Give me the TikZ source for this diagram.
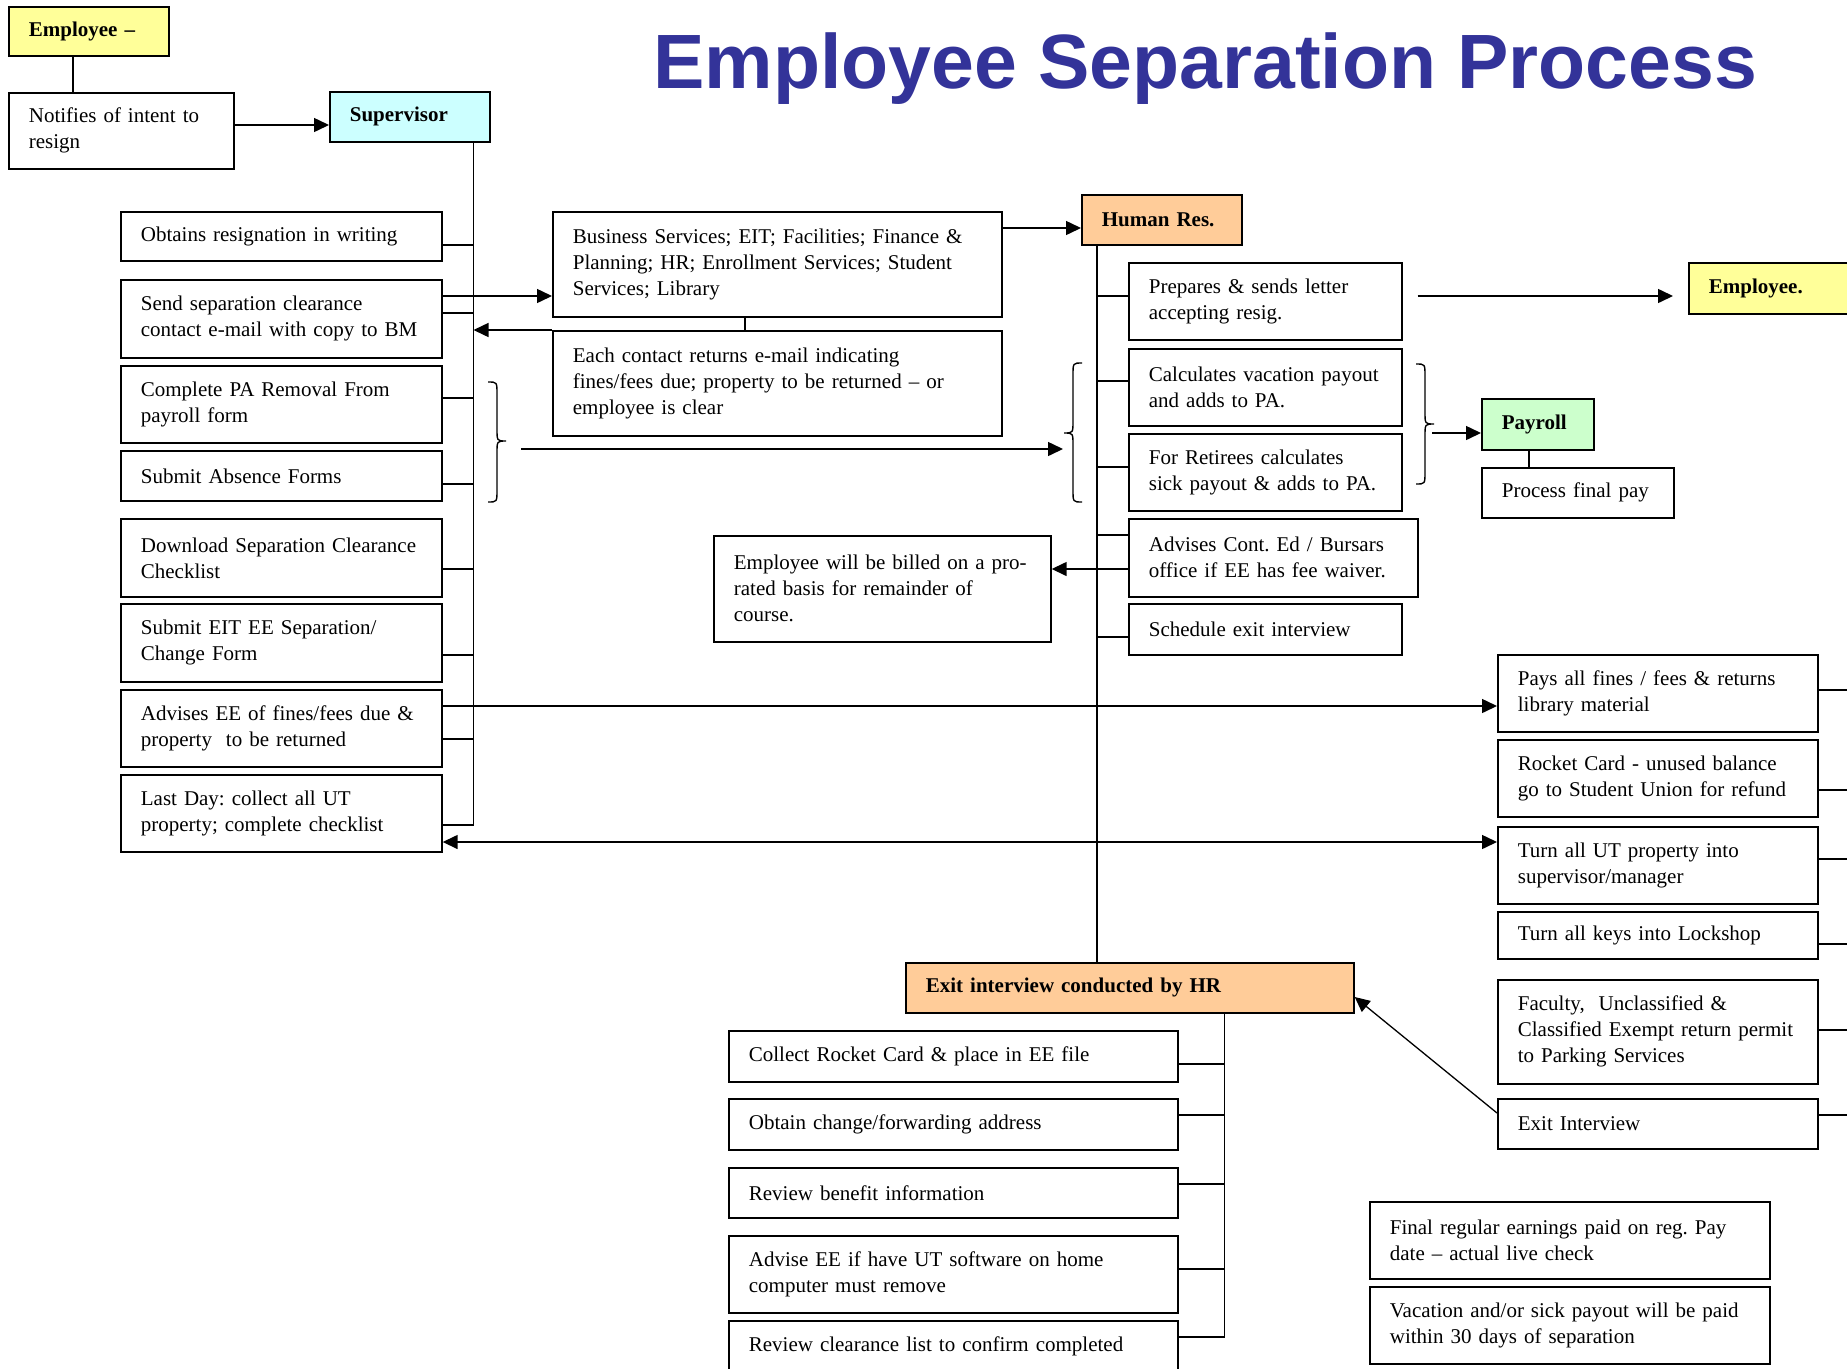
\documentclass[tikz,border=0pt]{standalone}
\usepackage{fontspec}
\setmainfont{Liberation Serif}
\newfontfamily\titlefont{Liberation Sans}
\usetikzlibrary{arrows.meta}
\definecolor{titleblue}{RGB}{51,51,153}
\definecolor{empyellow}{RGB}{255,255,153}
\definecolor{supcyan}{RGB}{204,255,255}
\definecolor{hrorange}{RGB}{255,204,153}
\definecolor{paygreen}{RGB}{204,255,204}
\newcommand\boxfont{\fontsize{21}{26}\selectfont\frenchspacing}

\tikzset{
  stepbox/.style={draw, line width=1.7pt, inner xsep=20pt, inner ysep=0pt,
    align=left, anchor=north west, font=\boxfont},
  headbox/.style={stepbox, font=\boxfont\bfseries},
  conn/.style={line width=1.5pt},
  arr/.style={conn, -{Triangle[length=15pt,width=14pt]}},
  dblarr/.style={conn, {Triangle[length=15pt,width=14pt]}-{Triangle[length=15pt,width=14pt]}},
  bracket/.style={line width=1.4pt},
}
% \placebox[style]{name}{left}{top}{width}{height}{text}
\newcommand\placebox[7][]{%
  \node[stepbox,#1,text width=\dimexpr#5pt-40pt\relax,minimum height=#6pt] (#2) at (#3,#4) {#7};}

\begin{document}
\begin{tikzpicture}[x=1pt,y=-1pt]
\useasboundingbox (0,0) rectangle (1847,1368);
\fill[white] (0,0) rectangle (1847,1368);
\clip (0,0) rectangle (1847,1368);

% title
\node[anchor=base west, inner sep=0pt, text=titleblue,
  font=\titlefont\bfseries\fontsize{77}{90}\selectfont] (title) at (653,88)
  {Employee Separation Process};

% employee and supervisor
\placebox[headbox, fill=empyellow]{empA}{8}{6}{160}{49}{Employee –}
\placebox{notify}{8}{92}{225}{76}{Notifies of intent to\\resign}
\placebox[headbox, fill=supcyan]{sup}{329}{91}{160}{50}{Supervisor}

% supervisor tasks
\placebox{obtain}{120}{211}{321}{49}{Obtains resignation in writing}
\placebox{sendsep}{120}{279}{321}{78}{Send separation clearance\\contact e-mail with copy to BM}
\placebox{complete}{120}{365}{321}{77}{Complete PA Removal From\\payroll form}
\placebox{absence}{120}{450}{321}{50}{Submit Absence Forms}
\placebox{download}{120}{518}{321}{78}{Download Separation Clearance\\Checklist}
\placebox{submiteit}{120}{603}{321}{78}{Submit EIT EE Separation/\\Change Form}
\placebox{advises}{120}{689}{321}{77}{Advises EE of fines/fees due \&\\property\ \ to be returned}
\placebox{lastday}{120}{774}{321}{77}{Last Day: collect all UT\\property; complete checklist}

% departments
\placebox{business}{552}{211}{449}{105}{Business Services; EIT; Facilities; Finance \&\\Planning; HR; Enrollment Services; Student\\Services; Library}
\placebox{each}{552}{330}{449}{105}{Each contact returns e-mail indicating\\fines/fees due; property to be returned – or\\employee is clear}

% human resources
\placebox[headbox, fill=hrorange]{hr}{1081}{194}{160}{50}{Human Res.}
\placebox{prepares}{1128}{262}{273}{77}{Prepares \& sends letter\\accepting resig.}
\placebox{calc}{1128}{348}{273}{77}{Calculates vacation payout\\and adds to PA.}
\placebox{retirees}{1128}{433}{273}{77}{For Retirees calculates\\sick payout \& adds to PA.}
\placebox{advcont}{1128}{518}{289}{78}{Advises Cont. Ed / Bursars\\office if EE has fee waiver.}
\placebox{schedule}{1128}{603}{273}{51}{Schedule exit interview}
\placebox{billed}{713}{535}{337}{106}{Employee will be billed on a pro-\\rated basis for remainder of\\course.}
\placebox[headbox, fill=empyellow]{emp2}{1688}{262}{220}{51}{Employee.}
\placebox[headbox, fill=paygreen]{payroll}{1481}{398}{112}{51}{Payroll}
\placebox{finalpay}{1481}{467}{192}{50}{Process final pay}

% employee tasks
\placebox{pays}{1497}{654}{320}{77}{Pays all fines / fees \& returns\\library material}
\placebox{rocket}{1497}{739}{320}{77}{Rocket Card - unused balance\\go to Student Union for refund}
\placebox{turnut}{1497}{826}{320}{77}{Turn all UT property into\\supervisor/manager}
\placebox{keys}{1497}{911}{320}{47}{Turn all keys into Lockshop}
\placebox{faculty}{1497}{979}{320}{104}{Faculty,\ \ Unclassified \&\\Classified Exempt return permit\\to Parking Services}
\placebox{exitint}{1497}{1098}{320}{50}{Exit Interview}

% exit interview
\placebox[headbox, fill=hrorange]{exitbox}{905}{962}{448}{50}{Exit interview conducted by HR}
\placebox{collect}{728}{1030}{449}{51}{Collect Rocket Card \& place in EE file}
\placebox{forward}{728}{1098}{449}{51}{Obtain change/forwarding address}
\placebox{benefit}{728}{1167}{449}{50}{Review benefit information}
\placebox{software}{728}{1235}{449}{77}{Advise EE if have UT software on home\\computer must remove}
\placebox{clearance}{728}{1320}{449}{51}{Review clearance list to confirm completed}
\placebox{finalearn}{1369}{1201}{400}{77}{Final regular earnings paid on reg. Pay\\date – actual live check}
\placebox{vacation}{1369}{1286}{400}{77}{Vacation and/or sick payout will be paid\\within 30 days of separation}

% bus lines
\coordinate (supbus) at (473.5,0);
\coordinate (hrbus) at (1097,0);
\coordinate (exbus) at (1224.5,0);
\coordinate (rim) at (1860,0);

\draw[conn] (empA.south -| 73,0) -- (notify.north -| 73,0);
\draw[arr] (notify.east |- 0,125) -- (sup.west |- 0,125);

% supervisor bus
\draw[conn] (supbus |- sup.south) -- (supbus |- 0,825);
\foreach \nm/\yy in {obtain/245, sendsep/313, complete/398, absence/484,
  download/569, submiteit/655, advises/739, lastday/825}
  \draw[conn] (\nm.east |- 0,\yy) -- (supbus |- 0,\yy);
\draw[arr] (sendsep.east |- 0,296) -- (business.west |- 0,296);
\draw[arr] (each.north west) -- (supbus |- each.north west);
\draw[conn] (business.south -| 745,0) -- (each.north -| 745,0);
\draw[arr] (business.east |- 0,228) -- (hr.west |- 0,228);

% brace over the two payroll forms
\draw[bracket] (488,382) .. controls (497,382) .. (497,394) -- (497,429)
  .. controls (497,441) .. (506,441) .. controls (497,441) .. (497,453)
  -- (497,490) .. controls (497,502) .. (488,502);
\coordinate (formsout) at (521,449);
\coordinate (formsin) at (1063,449);
\draw[arr] (formsout) -- (formsin);

% brace in front of the pay calculations
\draw[bracket] (1082,363) .. controls (1073,363) .. (1073,375) -- (1073,421)
  .. controls (1073,433) .. (1064,433) .. controls (1073,433) .. (1073,445)
  -- (1073,490) .. controls (1073,502) .. (1082,502);
% brace after the pay calculations
\draw[bracket] (1416,364) .. controls (1425,364) .. (1425,376) -- (1425,412)
  .. controls (1425,424) .. (1434,424) .. controls (1425,424) .. (1425,436)
  -- (1425,472) .. controls (1425,484) .. (1416,484);
\coordinate (payin) at (1432,433);
\draw[arr] (payin) -- (payroll.west |- payin);
\draw[conn] (payroll.south -| 1529,0) -- (finalpay.north -| 1529,0);

% human resources bus
\draw[conn] (hrbus |- hr.south) -- (hrbus |- exitbox.north);
\foreach \nm/\yy in {prepares/296, calc/381, retirees/467, advcont/535, schedule/637}
  \draw[conn] (\nm.west |- 0,\yy) -- (hrbus |- 0,\yy);
\draw[arr] (advcont.west |- 0,569) -- (billed.east |- 0,569);
\draw[arr, shorten <=15pt, shorten >=15pt] (prepares.east |- 0,296) -- (emp2.west |- 0,296);

% employee task links
\foreach \nm/\yy in {pays/690, rocket/790, turnut/859, keys/944, faculty/1030, exitint/1115}
  \draw[conn] (\nm.east |- 0,\yy) -- (rim |- 0,\yy);
\draw[arr] (advises.east |- 0,706) -- (pays.west |- 0,706);
\draw[dblarr] (lastday.east |- 0,842) -- (turnut.west |- 0,842);
\draw[arr, line width=1.3pt] (exitint.west |- 0,1113) -- (exitbox.east |- 0,997);

% exit interview bus
\draw[conn] (exbus |- exitbox.south) -- (exbus |- 0,1337);
\foreach \nm/\yy in {collect/1064, forward/1115, benefit/1184, software/1269, clearance/1337}
  \draw[conn] (\nm.east |- 0,\yy) -- (exbus |- 0,\yy);
\end{tikzpicture}
\end{document}
